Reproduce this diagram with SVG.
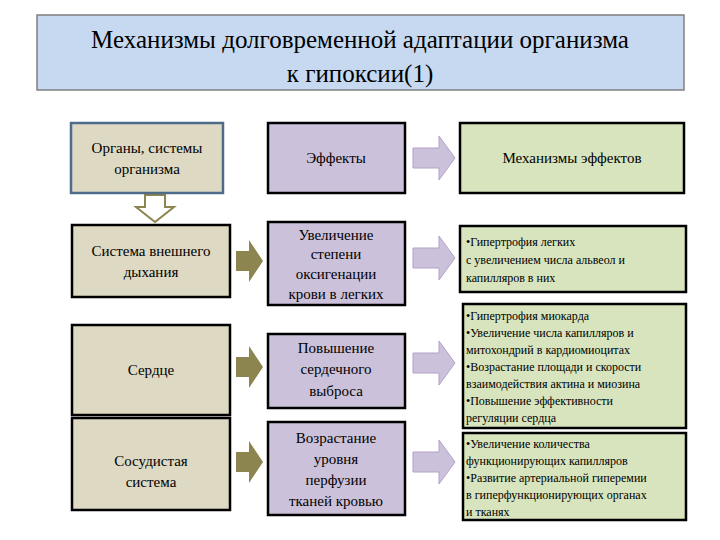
<svg xmlns="http://www.w3.org/2000/svg" width="720" height="540" viewBox="0 0 720 540" font-family="'Liberation Serif', 'Times New Roman', 'DejaVu Serif', serif">
<style>
text{fill:#000}
.c1{fill:#ddd9c3;stroke:#000;stroke-width:2.5}
.c2{fill:#ccc1da;stroke:#000;stroke-width:2.5}
.c3{fill:#d7e4bd;stroke:#000;stroke-width:2.5}
.t{font-size:15px;text-anchor:middle}
.s{font-size:12px}
.pa{fill:#ccc1da;stroke:#b3a2c7;stroke-width:1}
.oa{fill:#8c8550}
</style>
<rect width="720" height="540" fill="#fff"/>
<g id="title">
<rect x="37" y="15" width="647" height="75" fill="#c6d9f1" stroke="#7f7f7f" stroke-width="1.5"/>
<text x="360" y="48" font-size="25" text-anchor="middle">Механизмы долговременной адаптации организма</text>
<text x="360" y="82" font-size="25" text-anchor="middle">к гипоксии(1)</text>
</g>
<g id="connectors">
<path d="M145,195 h20 v12 h9 l-19,15 l-19,-15 h9 z" fill="#fff" stroke="#8c8550" stroke-width="2"/>
<path class="oa" d="M236,251 h13 v-11 l14,21 l-14,21 v-11 h-13 z"/>
<path class="oa" d="M236,357 h13 v-11 l14,21 l-14,21 v-11 h-13 z"/>
<path class="oa" d="M236,452 h13 v-11 l14,21 l-14,21 v-11 h-13 z"/>
<path class="pa" d="M413,148 h26 v-12 l16,22 l-16,22 v-12 h-26 z"/>
<path class="pa" d="M413,248 h26 v-12 l16,22 l-16,22 v-12 h-26 z"/>
<path class="pa" d="M413,353 h26 v-12 l16,22 l-16,22 v-12 h-26 z"/>
<path class="pa" d="M413,452 h26 v-12 l16,22 l-16,22 v-12 h-26 z"/>
</g>
<g id="n1"><rect x="71" y="123" width="152" height="70" fill="#ddd9c3" stroke="#4f6b8a" stroke-width="2.5"/>
<text class="t" x="147" y="153">Органы, системы</text><text class="t" x="147" y="174">организма</text></g>
<g id="n2"><rect class="c2" x="268" y="123" width="137" height="70"/><text class="t" x="336" y="163">Эффекты</text></g>
<g id="n3"><rect class="c3" x="460" y="123" width="224" height="70"/><text class="t" x="572" y="163">Механизмы эффектов</text></g>
<g id="n4"><rect class="c1" x="72" y="225" width="158" height="72"/>
<text class="t" x="151" y="256">Система внешнего</text><text class="t" x="151" y="277">дыхания</text></g>
<g id="n5"><rect class="c2" x="268" y="222" width="137" height="83"/>
<text class="t" x="336" y="240" font-size="14">Увеличение</text><text class="t" x="336" y="259" font-size="14">степени</text>
<text class="t" x="336" y="279" font-size="14">оксигенации</text><text class="t" x="336" y="299" font-size="14">крови в легких</text></g>
<g id="n6"><rect class="c3" x="460" y="226" width="226" height="66"/>
<text class="s" x="466" y="246">•Гипертрофия легких</text><text class="s" x="466" y="264">с увеличением числа альвеол и</text><text class="s" x="466" y="282">капилляров в них</text></g>
<g id="n7"><rect class="c1" x="72" y="325" width="158" height="90"/><text class="t" x="151" y="375">Сердце</text></g>
<g id="n8"><rect class="c2" x="268" y="334" width="137" height="74"/>
<text class="t" x="336" y="353">Повышение</text><text class="t" x="336" y="374">сердечного</text><text class="t" x="336" y="396">выброса</text></g>
<g id="n9"><rect class="c3" x="463" y="304" width="223" height="124"/>
<text class="s" x="466" y="320">•Гипертрофия миокарда</text><text class="s" x="466" y="337">•Увеличение числа капилляров и</text>
<text class="s" x="466" y="354">митохондрий в кардиомиоцитах</text><text class="s" x="466" y="371">•Возрастание площади и скорости</text>
<text class="s" x="466" y="388">взаимодействия актина и миозина</text><text class="s" x="466" y="405">•Повышение эффективности</text>
<text class="s" x="466" y="422">регуляции сердца</text></g>
<g id="n10"><rect class="c1" x="72" y="418" width="158" height="92"/>
<text class="t" x="151" y="466">Сосудистая</text><text class="t" x="151" y="487">система</text></g>
<g id="n11"><rect class="c2" x="268" y="422" width="137" height="93"/>
<text class="t" x="336" y="443">Возрастание</text><text class="t" x="336" y="464">уровня</text>
<text class="t" x="336" y="485">перфузии</text><text class="t" x="336" y="506">тканей кровью</text></g>
<g id="n12"><rect class="c3" x="463" y="433" width="223" height="87"/>
<text class="s" x="466" y="448">•Увеличение количества</text><text class="s" x="466" y="465">функционирующих капилляров</text>
<text class="s" x="466" y="482">•Развитие артериальной гиперемии</text><text class="s" x="466" y="499">в гиперфункционирующих органах</text>
<text class="s" x="466" y="516">и тканях</text></g>
</svg>
